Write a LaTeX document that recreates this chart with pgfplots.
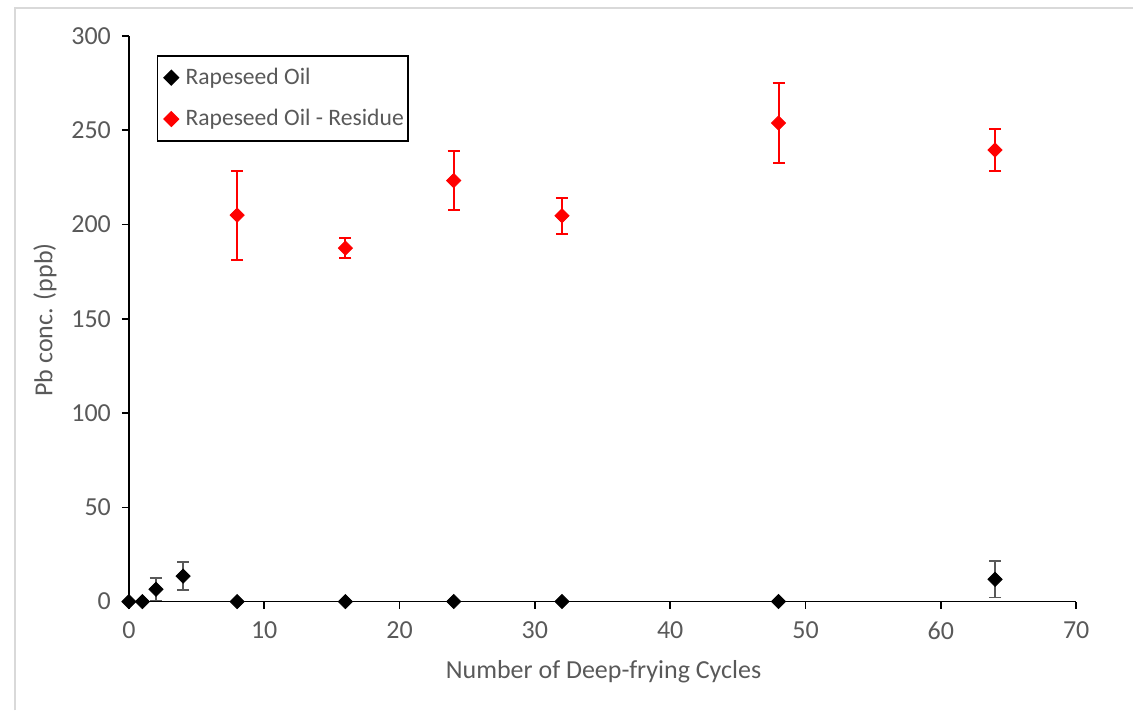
\documentclass[border=0pt]{standalone}
\usepackage{pgfplots}
\pgfplotsset{compat=1.18}
\usepackage{fontspec}
\setmainfont{Carlito}
\definecolor{txt}{HTML}{595959}
\definecolor{frame}{HTML}{D9D9D9}
\definecolor{red1}{HTML}{FF0000}

\pgfplotstableread{
x y ey
0 0 0
1 0 0
2 6.5 6
4 13.5 7.5
8 0 0
16 0 0
24 0 0
32 0 0
48 0 0
64 11.8 9.7
}\oil

\pgfplotstableread{
x y ey
8 205 23.6
16 187.5 5.1
24 223.3 15.5
32 204.6 9.7
48 253.8 21
64 239.5 11.2
}\residue

\begin{document}
\begin{tikzpicture}
\path (-64.5pt,-54.5pt) rectangle (502.5pt,301pt);
\draw[frame, line width=0.8pt] (-57pt,-54.5pt) -- (-57pt,297pt) -- (502.5pt,297pt);
\begin{axis}[
	at={(0,0)}, anchor=origin,
	scale only axis,
	width=474pt, height=283pt,
	xmin=0, xmax=70, ymin=0, ymax=300,
	xtick={0,10,...,70}, ytick={0,50,...,300},
	axis x line=bottom, axis y line=left,
	axis line style={-, black, line width=0.8pt},
	tick align=outside, tick style={black, line width=0.8pt},
	major tick length=3.5pt,
	/pgf/number format/assume math mode=true,
	tick label style={font=\fontsize{13}{15}\selectfont, text=txt},
	xticklabel style={yshift=-3pt},
	yticklabel style={xshift=-2pt},
	xlabel={Number of Deep-frying Cycles},
	ylabel={Pb conc. (ppb)},
	every axis x label/.style={at={(axis description cs:0.501,-0.1237)}, anchor=center,
		font=\fontsize{13}{15}\selectfont, text=txt},
	every axis y label/.style={at={(axis description cs:-0.0886,0.498)}, rotate=90, anchor=center,
		font=\fontsize{13}{15}\selectfont, text=txt},
	clip=false,
	legend style={at={(rel axis cs:0.0295,0.966)}, anchor=north west,
		draw=black, line width=0.8pt, font=\fontsize{11.8}{14}\selectfont,
		text=txt, row sep=7pt, inner xsep=0pt, inner ysep=4pt,
		legend cell align=left},
	legend image code/.code={\path[draw=none, fill=none] (0,0) -- (0.42cm,0);
		\draw[#1] plot coordinates {(0.24cm,0cm)};},
]
\addplot+[only marks, black, mark=square*, mark size=2.5pt,
	mark options={rotate=45, fill=black, draw=black},
	error bars/.cd, y dir=both, y explicit,
	error bar style={txt, line width=0.8pt},
	error mark options={rotate=90, mark size=3pt, txt, line width=0.8pt}]
	table[x=x, y=y, y error=ey] {\oil};
\addlegendentry{Rapeseed Oil}
\addplot+[only marks, red1, mark=square*, mark size=2.5pt,
	mark options={rotate=45, fill=red1, draw=red1},
	error bars/.cd, y dir=both, y explicit,
	error bar style={red1, line width=1pt},
	error mark options={rotate=90, mark size=3pt, red1, line width=1pt}]
	table[x=x, y=y, y error=ey] {\residue};
\addlegendentry{Rapeseed Oil - Residue}
\end{axis}
\end{tikzpicture}
\end{document}
